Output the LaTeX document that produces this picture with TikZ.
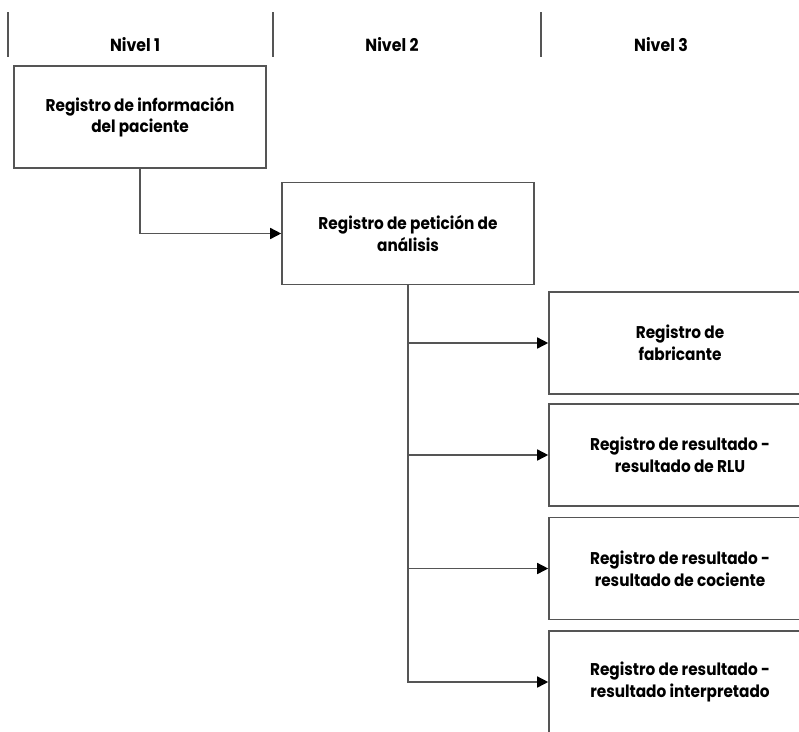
\documentclass[tikz,border=0pt]{standalone}
\usepackage{fontspec}
\setmainfont{Poppins}[FakeStretch=0.9]
\usepackage{tikz}
\usetikzlibrary{arrows.meta,positioning,calc}
\definecolor{linegray}{RGB}{85,85,85}
\tikzset{
    recbox/.style={
        rectangle,
        draw=linegray,
        line width=1.6pt,
        fill=white,
        minimum width=252pt,
        minimum height=102pt,
        align=center,
        font=\fontsize{17}{21.5}\selectfont\bfseries
    },
    subbox/.style={
        recbox,
        minimum width=262pt
    },
    levellabel/.style={
        font=\fontsize{17.5}{21}\selectfont\bfseries
    },
    sepline/.style={
        linegray,
        line width=1.5pt
    },
    link/.style={
        linegray,
        line width=1.5pt,
        -{Triangle[length=11pt,width=11pt,color=black]}
    }
}
\begin{document}
\begin{tikzpicture}[x=1pt,y=-1pt]
        \useasboundingbox (0,0) rectangle (799,731);
        \begin{scope}
        \clip (0,0) rectangle (799,731);

        % Level headers
        \node[levellabel] (lvl1) at (135,45) {Nivel 1};
        \node[levellabel] (lvl2) at (392,45) {Nivel 2};
        \node[levellabel] (lvl3) at (661,45) {Nivel 3};
        \coordinate (s1) at (8,12);
        \coordinate (s2) at (273,12);
        \coordinate (s3) at (541,12);
        \draw[sepline] (s1) -- ++(0,45);
        \draw[sepline] (s2) -- ++(0,45);
        \draw[sepline] (s3) -- ++(0,45);

        % Level 1 and 2 records
        \node[recbox] (patient) at (140,117) {Registro de información\\del paciente};
        \node[recbox] (order) at (408,233.5) {Registro de petición de\\análisis};

        % Level 3 records
        \node[subbox] (maker) at (680,343) {Registro de\\fabricante};
        \node[subbox] (rlu) at (680,455) {Registro de resultado -\\resultado de RLU};
        \node[subbox] (ratio) at (680,568.5) {Registro de resultado -\\resultado de cociente};
        \node[subbox] (interp) at (680,682) {Registro de resultado -\\resultado interpretado};

        % Connections
        \draw[link] (patient.south) |- (order.west);
        \draw[link] (order.south) |- (maker.west);
        \draw[link] (order.south) |- (rlu.west);
        \draw[link] (order.south) |- (ratio.west);
        \draw[link] (order.south) |- (interp.west);
        \end{scope}
    \end{tikzpicture}
\end{document}
